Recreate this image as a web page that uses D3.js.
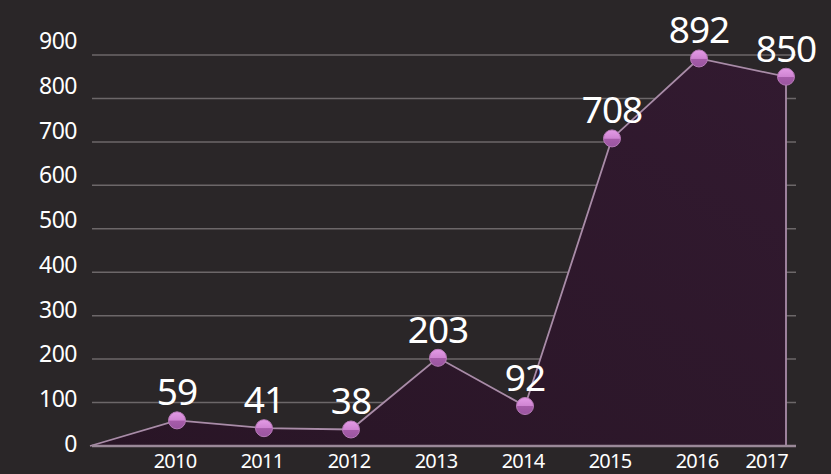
<!DOCTYPE html>
<html lang="en">
<head>
  <meta charset="UTF-8" />
  <title>Chart</title>
  <script src="https://cdn.jsdelivr.net/npm/d3@7"></script>
  <style>
    body { margin: 0; background: #2a2628; }
    text { font-family: "Noto Sans", sans-serif; fill: #fff; }
  </style>
</head>
<body>
<script>
  // data
  const years = [2010, 2011, 2012, 2013, 2014, 2015, 2016, 2017];
  const values = [59, 41, 38, 203, 92, 708, 892, 850];
  const yTicks = [0, 100, 200, 300, 400, 500, 600, 700, 800, 900];

  const width = 831;
  const height = 474;

  const svg = d3.select('body')
    .append('svg')
    .attr('width', width)
    .attr('height', height);

  // x starts one year before the first point, that's where the area starts
  const x = d3.scaleLinear()
    .domain([years[0] - 1, years[years.length - 1]])
    .range([90, 786]);

  const y = d3.scaleLinear()
    .domain([0, 900])
    .range([446, 55]);

  // tick labels drift a little against the gridlines in the original
  const yLabel = d3.scaleLinear()
    .domain([0, 900])
    .range([452, 49]);

  const data = years.map((yr, i) => ({ year: yr, value: values[i] }));

  // gradients
  const defs = svg.append('defs');
  const areaGrad = defs.append('linearGradient')
    .attr('id', 'areaGrad')
    .attr('x1', '0%').attr('y1', '100%')
    .attr('x2', '100%').attr('y2', '0%');
  areaGrad.append('stop').attr('offset', '0%').attr('stop-color', '#291526');
  areaGrad.append('stop').attr('offset', '100%').attr('stop-color', '#321a30');

  const dotGrad = defs.append('linearGradient')
    .attr('id', 'dotGrad')
    .attr('x1', '0%').attr('y1', '0%')
    .attr('x2', '0%').attr('y2', '100%');
  dotGrad.append('stop').attr('offset', '0%').attr('stop-color', '#e39be6');
  dotGrad.append('stop').attr('offset', '50%').attr('stop-color', '#cf84d2');
  dotGrad.append('stop').attr('offset', '52%').attr('stop-color', '#a65ca9');
  dotGrad.append('stop').attr('offset', '100%').attr('stop-color', '#9a55a0');

  // gridlines
  svg.append('g')
    .selectAll('line')
    .data(yTicks.filter(d => d > 0))
    .join('line')
    .attr('x1', 92)
    .attr('x2', 796)
    .attr('y1', d => y(d))
    .attr('y2', d => y(d))
    .attr('stroke', '#6c6769')
    .attr('stroke-width', 1.5);

  // y labels
  svg.append('g')
    .selectAll('text')
    .data(yTicks)
    .join('text')
    .attr('x', 77)
    .attr('y', d => yLabel(d))
    .attr('text-anchor', 'end')
    .attr('font-size', 23)
    .attr('letter-spacing', -0.5)
    .text(d => d);

  // area
  const x0 = x.domain()[0];
  const areaData = [{ year: x0, value: 0 }].concat(data);

  const area = d3.area()
    .x(d => x(d.year))
    .y0(y(0))
    .y1(d => y(d.value));

  svg.append('path')
    .datum(areaData)
    .attr('d', area)
    .attr('fill', 'url(#areaGrad)');

  // line plus the drop on the right
  const last = data[data.length - 1];
  const line = d3.line()
    .x(d => x(d.year))
    .y(d => y(d.value));

  svg.append('path')
    .datum(areaData.concat([{ year: last.year, value: 0 }]))
    .attr('d', line)
    .attr('fill', 'none')
    .attr('stroke', '#a98ca8')
    .attr('stroke-width', 1.8);

  // baseline
  svg.append('line')
    .attr('x1', 92)
    .attr('x2', 796)
    .attr('y1', y(0))
    .attr('y2', y(0))
    .attr('stroke', '#9a8898')
    .attr('stroke-width', 2.5);

  // dots
  svg.append('g')
    .selectAll('circle')
    .data(data)
    .join('circle')
    .attr('cx', d => x(d.year))
    .attr('cy', d => y(d.value))
    .attr('r', 8.5)
    .attr('fill', 'url(#dotGrad)')
    .attr('stroke', '#b77ab8')
    .attr('stroke-width', 1);

  // value labels
  svg.append('g')
    .selectAll('text')
    .data(data)
    .join('text')
    .attr('x', d => x(d.year))
    .attr('y', d => y(d.value) - 15)
    .attr('text-anchor', 'middle')
    .attr('font-size', 37)
    .attr('letter-spacing', -1)
    .text(d => d.value);

  // year labels, the last one sits left of its point
  svg.append('g')
    .selectAll('text')
    .data(data)
    .join('text')
    .attr('x', (d, i) => i === data.length - 1 ? x(d.year) + 2 : x(d.year) - 2)
    .attr('y', 468)
    .attr('text-anchor', (d, i) => i === data.length - 1 ? 'end' : 'middle')
    .attr('font-size', 20)
    .attr('letter-spacing', -0.8)
    .text(d => d.year);
</script>
</body>
</html>
